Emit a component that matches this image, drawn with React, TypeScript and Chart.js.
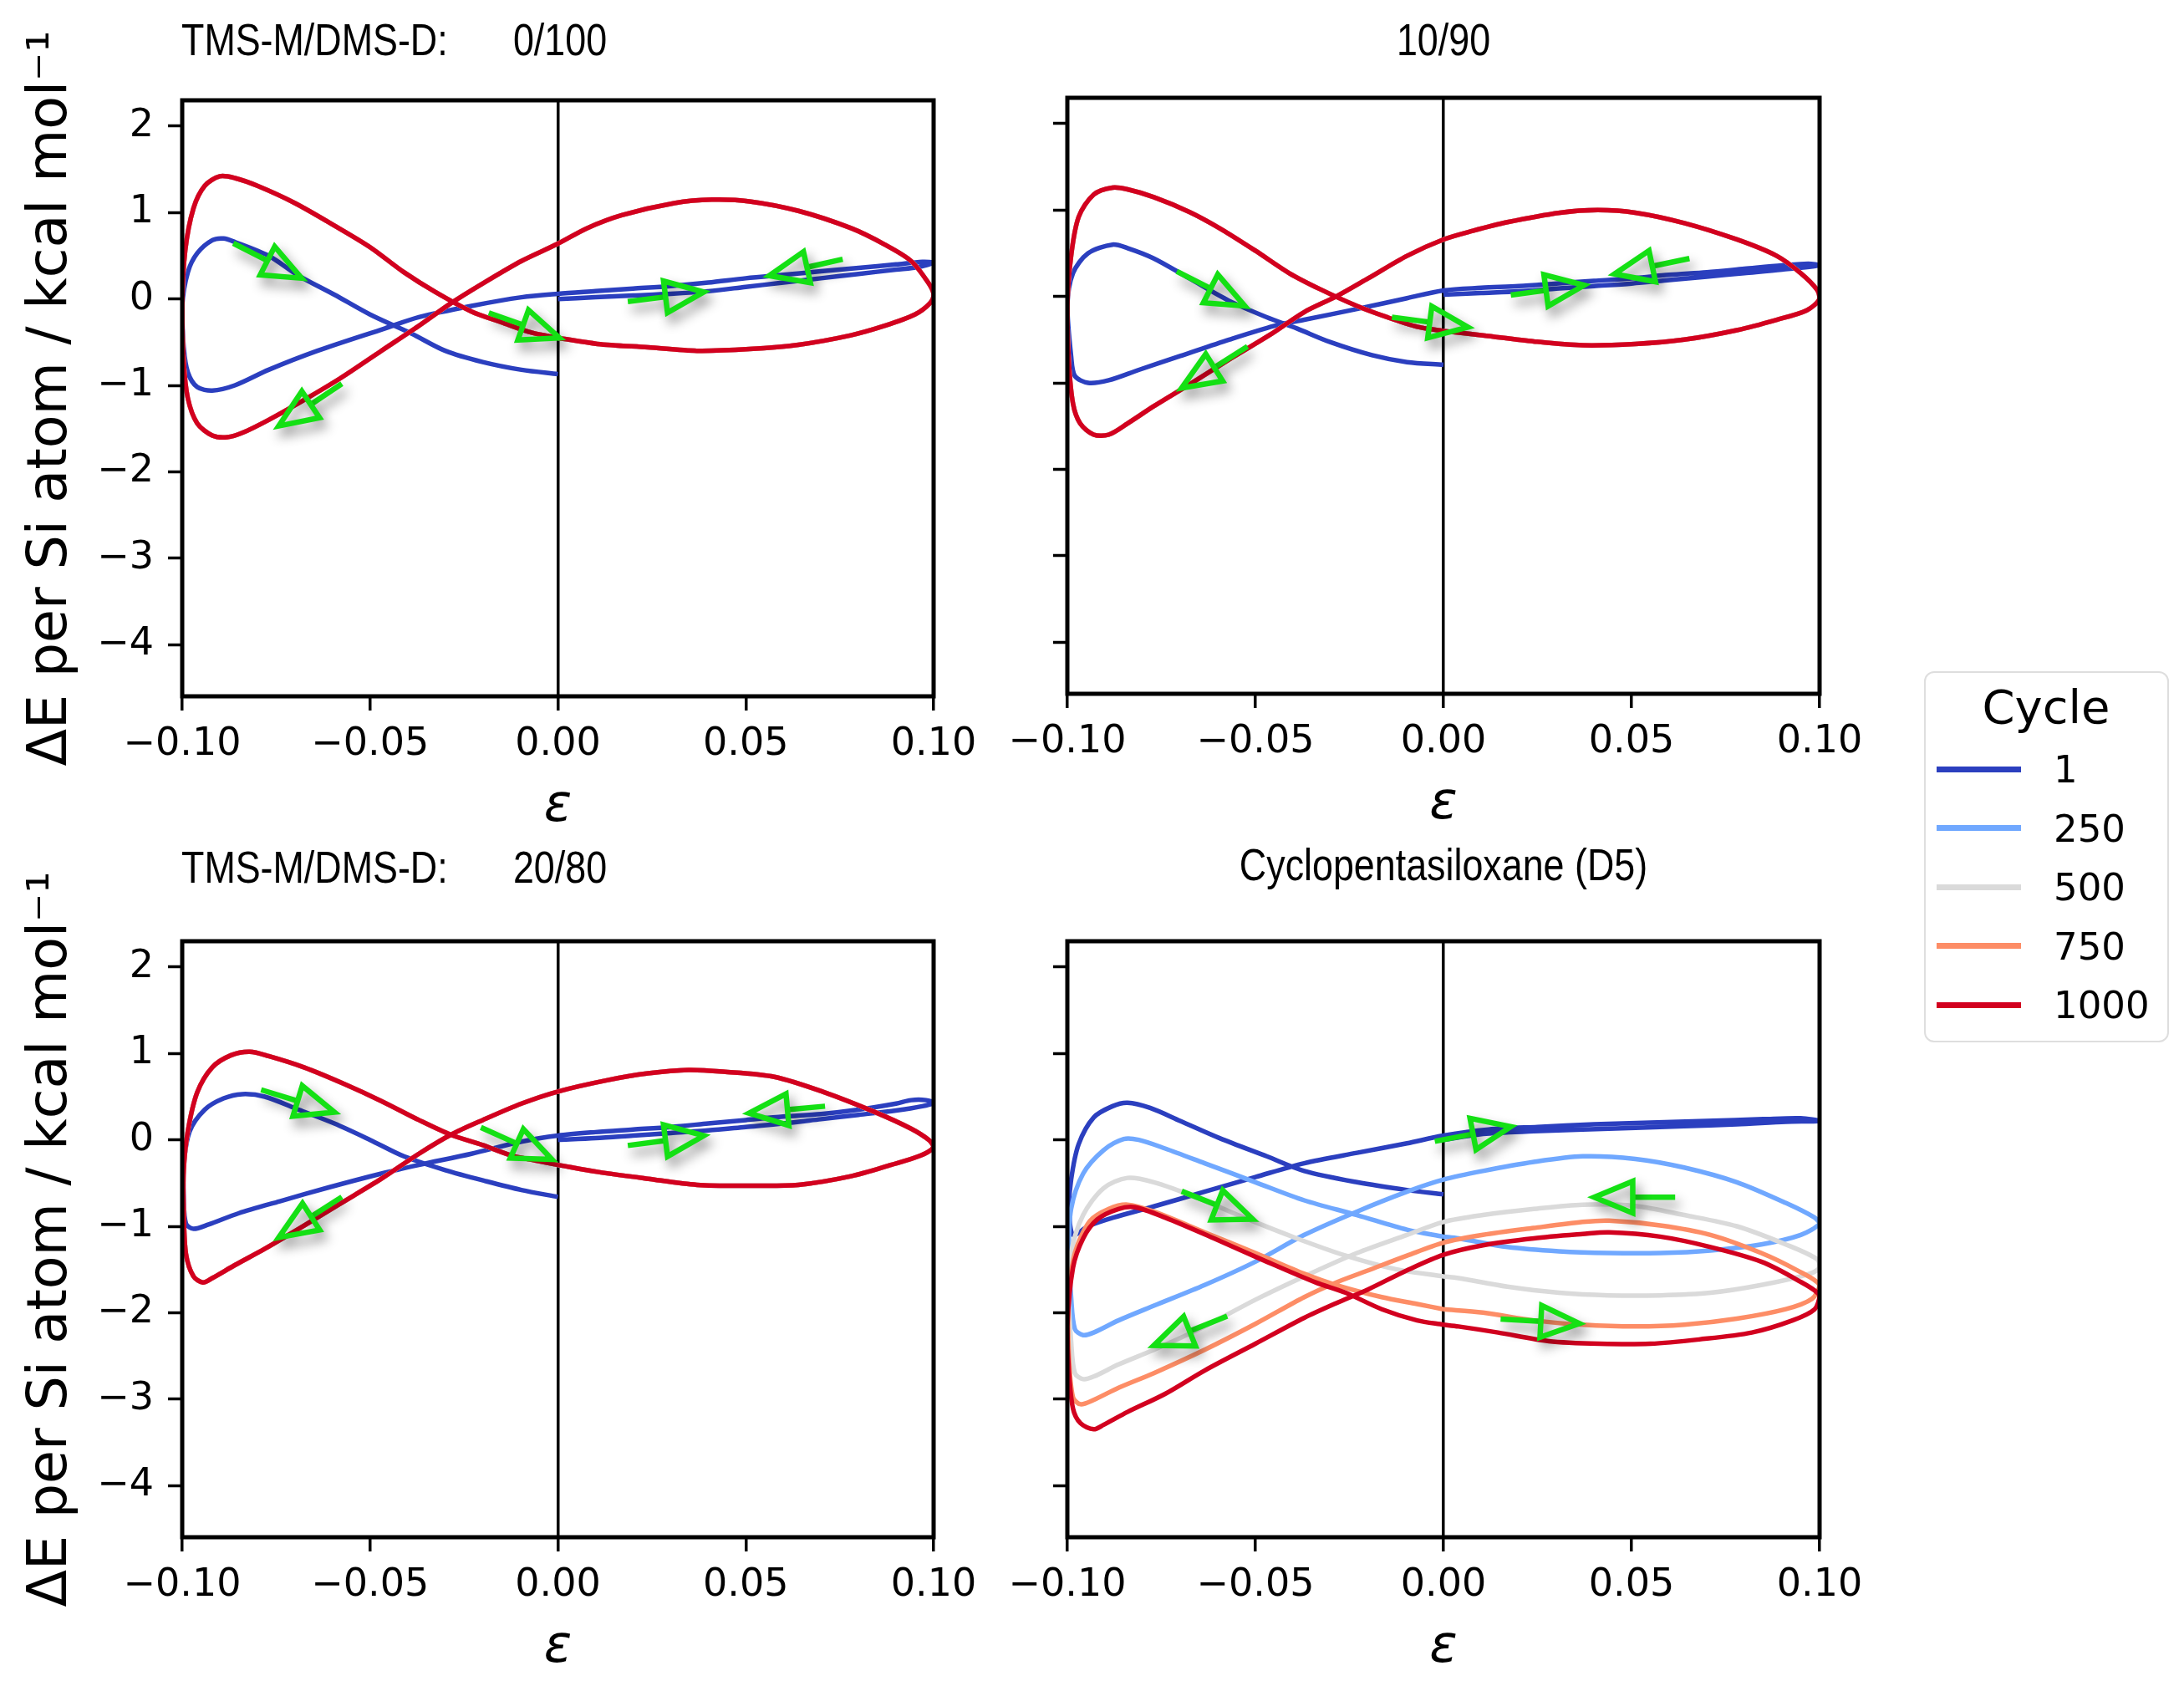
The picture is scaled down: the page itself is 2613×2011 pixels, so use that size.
import React, { useEffect, useRef } from "react";
import { Chart, registerables } from "chart.js";

Chart.register(...registerables);

type Pt = [number, number];
type Arrow = [number, number, number, number]; // tailX, tailY, tipX, tipY (data units)

// ---------- shared categories / ticks ----------
const cycles = ["1", "250", "500", "750", "1000"];
const cycleColors = ["#2b3fbf", "#70a8ff", "#dadada", "#fd8d66", "#d2001f"];
const xTicks = [-0.1, -0.05, 0, 0.05, 0.1];
const yTicks = [-4, -3, -2, -1, 0, 1, 2];
const xMin = -0.1;
const xMax = 0.1;
const yMin = -4.6;
const yMax = 2.3;
const titlePrefix = "TMS-M/DMS-D:";
const panelTitles = ["0/100", "10/90", "20/80", "Cyclopentasiloxane (D5)"];
const yAxisTitle = "ΔE per Si atom / kcal mol⁻¹";
const xAxisTitle = "ε";

// ---------- Panel 1 : 0/100 ----------
const p1_c1: Pt[] = [
  [0, 0.0], [0.01, 0.02], [0.02, 0.04], [0.03, 0.06], [0.04, 0.09], [0.05, 0.14], [0.06, 0.19], [0.07, 0.24],
  [0.08, 0.29], [0.09, 0.34], [0.096, 0.37], [0.1, 0.42], [0.097, 0.43], [0.09, 0.4], [0.08, 0.36], [0.07, 0.32],
  [0.06, 0.28], [0.05, 0.24], [0.04, 0.19], [0.03, 0.15], [0.02, 0.12], [0.01, 0.09], [0, 0.06],
  [-0.0097, 0.02], [-0.023, -0.08], [-0.037, -0.21], [-0.046, -0.34], [-0.064, -0.6], [-0.077, -0.82],
  [-0.086, -1.0], [-0.092, -1.06], [-0.096, -1.02], [-0.0985, -0.85], [-0.0996, -0.56], [-0.1, -0.08],
  [-0.0985, 0.31], [-0.096, 0.53], [-0.092, 0.68], [-0.089, 0.7], [-0.086, 0.66], [-0.077, 0.5], [-0.069, 0.27],
  [-0.0595, 0.05], [-0.05, -0.18], [-0.039, -0.4], [-0.03, -0.6], [-0.02, -0.73], [-0.0097, -0.82], [0, -0.87],
];
const p1_c1000: Pt[] = [
  [0, -0.45], [0.0105, -0.52], [0.024, -0.56], [0.037, -0.6], [0.051, -0.58], [0.064, -0.53], [0.078, -0.42],
  [0.087, -0.31], [0.095, -0.18], [0.099, -0.05], [0.1, 0.05], [0.0987, 0.18], [0.094, 0.44], [0.087, 0.63],
  [0.078, 0.82], [0.064, 1.02], [0.051, 1.13], [0.041, 1.15], [0.031, 1.11], [0.017, 0.97], [0.0078, 0.82],
  [0, 0.64], [-0.0097, 0.44], [-0.02, 0.18], [-0.0285, -0.05], [-0.037, -0.31], [-0.047, -0.6], [-0.058, -0.92],
  [-0.068, -1.18], [-0.077, -1.4], [-0.084, -1.55], [-0.088, -1.6], [-0.092, -1.58], [-0.096, -1.44],
  [-0.0985, -1.15], [-0.0996, -0.73], [-0.1, -0.08], [-0.0992, 0.56], [-0.097, 1.05], [-0.094, 1.31],
  [-0.09, 1.42], [-0.086, 1.4], [-0.08, 1.31], [-0.07, 1.11], [-0.0595, 0.85], [-0.05, 0.6], [-0.041, 0.31],
  [-0.0326, 0.08], [-0.023, -0.145], [-0.015, -0.27], [-0.007, -0.39], [0, -0.45],
];
// cycles 250 / 500 / 750 lie on top of cycle 1000 in this panel
const p1_c250 = p1_c1000;
const p1_c500 = p1_c1000;
const p1_c750 = p1_c1000;
const p1_arrows: Arrow[] = [
  [-0.0864, 0.645, -0.0682, 0.24],
  [-0.0184, -0.16, 0.0004, -0.45],
  [0.0186, -0.03, 0.0388, 0.08],
  [0.0758, 0.46, 0.0563, 0.27],
  [-0.0575, -0.98, -0.0743, -1.47],
];

// ---------- Panel 2 : 10/90 ----------
const p2_c1: Pt[] = [
  [0, 0.02], [0.01, 0.04], [0.02, 0.06], [0.03, 0.09], [0.04, 0.12], [0.05, 0.15], [0.06, 0.19], [0.07, 0.23],
  [0.08, 0.27], [0.09, 0.31], [0.1, 0.36], [0.097, 0.38], [0.09, 0.36], [0.08, 0.32], [0.07, 0.28], [0.06, 0.25],
  [0.05, 0.21], [0.04, 0.18], [0.03, 0.15], [0.02, 0.12], [0.01, 0.1], [0, 0.07],
  [-0.0097, -0.02], [-0.023, -0.145], [-0.037, -0.27], [-0.045, -0.34], [-0.057, -0.5], [-0.07, -0.69],
  [-0.081, -0.85], [-0.089, -0.97], [-0.0945, -1.0], [-0.098, -0.92], [-0.099, -0.69], [-0.1, -0.11],
  [-0.0985, 0.27], [-0.0945, 0.5], [-0.088, 0.6], [-0.084, 0.56], [-0.077, 0.44], [-0.0676, 0.21],
  [-0.057, -0.05], [-0.047, -0.24], [-0.039, -0.37], [-0.03, -0.53], [-0.019, -0.68], [-0.0097, -0.76], [0, -0.79],
];
const p2_c1000: Pt[] = [
  [0, -0.4], [0.0105, -0.45], [0.024, -0.52], [0.037, -0.565], [0.051, -0.55], [0.064, -0.5], [0.078, -0.39],
  [0.0886, -0.27], [0.0966, -0.16], [0.1, -0.03], [0.0993, 0.08], [0.095, 0.27], [0.0886, 0.47], [0.078, 0.66],
  [0.064, 0.85], [0.051, 0.97], [0.041, 1.0], [0.031, 0.97], [0.017, 0.86], [0.0078, 0.76], [0, 0.66],
  [-0.0097, 0.47], [-0.02, 0.21], [-0.0285, 0.0], [-0.037, -0.18], [-0.046, -0.44], [-0.057, -0.73],
  [-0.0676, -1.02], [-0.077, -1.27], [-0.084, -1.47], [-0.089, -1.6], [-0.093, -1.6], [-0.0966, -1.47],
  [-0.0985, -1.24], [-0.0996, -0.76], [-0.1, -0.11], [-0.099, 0.47], [-0.097, 0.92], [-0.093, 1.18],
  [-0.088, 1.26], [-0.084, 1.24], [-0.077, 1.15], [-0.0676, 0.98], [-0.0595, 0.79], [-0.05, 0.53],
  [-0.041, 0.27], [-0.0326, 0.08], [-0.023, -0.11], [-0.015, -0.24], [-0.007, -0.35], [0, -0.4],
];
const p2_c250 = p2_c1000;
const p2_c500 = p2_c1000;
const p2_c750 = p2_c1000;
const p2_arrows: Arrow[] = [
  [-0.0709, 0.29, -0.0528, -0.11],
  [-0.0137, -0.24, 0.0065, -0.355],
  [0.0179, 0.016, 0.0374, 0.13],
  [0.0654, 0.44, 0.0455, 0.26],
  [-0.0521, -0.58, -0.0696, -1.06],
];

// ---------- Panel 3 : 20/80 ----------
const p3_c1: Pt[] = [
  [0, 0.0], [0.01, 0.02], [0.02, 0.05], [0.03, 0.08], [0.04, 0.11], [0.05, 0.15], [0.06, 0.19], [0.07, 0.24],
  [0.08, 0.29], [0.09, 0.34], [0.097, 0.39], [0.1, 0.43], [0.098, 0.46], [0.094, 0.46], [0.09, 0.42], [0.08, 0.35],
  [0.07, 0.3], [0.06, 0.27], [0.05, 0.23], [0.04, 0.19], [0.03, 0.15], [0.02, 0.12], [0.01, 0.09], [0, 0.05],
  [-0.0097, -0.02], [-0.023, -0.16], [-0.037, -0.29], [-0.047, -0.39], [-0.061, -0.55], [-0.074, -0.71],
  [-0.085, -0.85], [-0.093, -0.98], [-0.097, -1.03], [-0.099, -0.97], [-0.0996, -0.68], [-0.0996, -0.29],
  [-0.098, 0.1], [-0.094, 0.35], [-0.089, 0.48], [-0.084, 0.53], [-0.078, 0.5], [-0.069, 0.35], [-0.0595, 0.19],
  [-0.05, 0.0], [-0.041, -0.19], [-0.03, -0.35], [-0.019, -0.48], [-0.0097, -0.58], [0, -0.66],
];
const p3_c1000: Pt[] = [
  [0, -0.29], [0.0105, -0.37], [0.024, -0.45], [0.037, -0.52], [0.051, -0.53], [0.064, -0.52], [0.078, -0.42],
  [0.0886, -0.29], [0.0966, -0.18], [0.1, -0.08], [0.0987, 0.0], [0.094, 0.13], [0.0845, 0.32], [0.071, 0.55],
  [0.0576, 0.73], [0.044, 0.79], [0.0347, 0.81], [0.024, 0.77], [0.013, 0.69], [0, 0.56], [-0.0097, 0.42],
  [-0.02, 0.23], [-0.0285, 0.06], [-0.037, -0.16], [-0.047, -0.45], [-0.058, -0.74], [-0.069, -1.03],
  [-0.078, -1.26], [-0.086, -1.45], [-0.092, -1.6], [-0.0945, -1.65], [-0.097, -1.58], [-0.099, -1.32],
  [-0.0996, -0.84], [-0.0996, -0.35], [-0.0985, 0.1], [-0.096, 0.55], [-0.092, 0.84], [-0.087, 0.98],
  [-0.082, 1.02], [-0.077, 0.97], [-0.0676, 0.84], [-0.057, 0.65], [-0.047, 0.45], [-0.037, 0.23],
  [-0.0285, 0.06], [-0.02, -0.06], [-0.0124, -0.18], [-0.0057, -0.24], [0, -0.29],
];
const p3_c250 = p3_c1000;
const p3_c500 = p3_c1000;
const p3_c750 = p3_c1000;
const p3_arrows: Arrow[] = [
  [-0.079, 0.58, -0.0595, 0.32],
  [-0.0205, 0.145, -0.0016, -0.226],
  [0.0186, -0.065, 0.0388, 0.048],
  [0.0711, 0.39, 0.0509, 0.31],
  [-0.0575, -0.66, -0.0743, -1.13],
];

// ---------- Panel 4 : Cyclopentasiloxane (D5) ----------
const p4_c1: Pt[] = [
  [0, 0.0], [0.0105, 0.07], [0.024, 0.1], [0.037, 0.12], [0.051, 0.14], [0.064, 0.16], [0.078, 0.18],
  [0.091, 0.21], [0.1, 0.22], [0.095, 0.25], [0.085, 0.24], [0.07, 0.22], [0.055, 0.2], [0.04, 0.18],
  [0.025, 0.15], [0.012, 0.12], [0, 0.05], [-0.0097, -0.04], [-0.023, -0.15], [-0.037, -0.27], [-0.05, -0.43],
  [-0.0635, -0.6], [-0.077, -0.77], [-0.0878, -0.9], [-0.0945, -1.0], [-0.0985, -1.1], [-0.0995, -0.8],
  [-0.099, -0.46], [-0.097, -0.05], [-0.093, 0.26], [-0.088, 0.39], [-0.084, 0.43], [-0.078, 0.37],
  [-0.07, 0.22], [-0.0595, 0.02], [-0.047, -0.19], [-0.037, -0.36], [-0.023, -0.49], [-0.0097, -0.58], [0, -0.63],
];
const p4_c250: Pt[] = [
  [0, -1.12], [0.004, -1.14], [0.017, -1.24], [0.0307, -1.29], [0.044, -1.31], [0.0576, -1.31], [0.071, -1.28],
  [0.0845, -1.21], [0.095, -1.1], [0.1, -0.97], [0.0987, -0.9], [0.091, -0.73], [0.078, -0.49], [0.064, -0.32],
  [0.051, -0.22], [0.037, -0.19], [0.024, -0.255], [0.0105, -0.36], [0, -0.46], [-0.0097, -0.6], [-0.023, -0.83],
  [-0.037, -1.1], [-0.05, -1.41], [-0.0635, -1.68], [-0.077, -1.92], [-0.0864, -2.09], [-0.093, -2.23],
  [-0.0958, -2.26], [-0.098, -2.19], [-0.099, -1.82], [-0.0996, -1.31], [-0.099, -0.8], [-0.0958, -0.39],
  [-0.0904, -0.12], [-0.085, 0.01], [-0.081, 0.0], [-0.074, -0.1], [-0.0635, -0.27], [-0.05, -0.49],
  [-0.037, -0.7], [-0.023, -0.87], [-0.0097, -1.04], [0, -1.12],
];
const p4_c500: Pt[] = [
  [0, -1.58], [0.004, -1.6], [0.017, -1.7], [0.0307, -1.77], [0.044, -1.8], [0.0576, -1.8], [0.071, -1.77],
  [0.0845, -1.68], [0.0966, -1.56], [0.1, -1.48], [0.0993, -1.38], [0.091, -1.21], [0.078, -1.0], [0.064, -0.87],
  [0.051, -0.765], [0.037, -0.75], [0.024, -0.8], [0.0105, -0.87], [0, -0.95], [-0.0097, -1.1], [-0.023, -1.31],
  [-0.037, -1.58], [-0.05, -1.85], [-0.0635, -2.16], [-0.077, -2.43], [-0.0864, -2.6], [-0.093, -2.74],
  [-0.0958, -2.77], [-0.098, -2.7], [-0.099, -2.33], [-0.0996, -1.82], [-0.099, -1.31], [-0.0958, -0.87],
  [-0.0904, -0.56], [-0.084, -0.44], [-0.077, -0.49], [-0.066, -0.66], [-0.053, -0.9], [-0.039, -1.14],
  [-0.026, -1.34], [-0.0124, -1.5], [0, -1.58],
];
const p4_c750: Pt[] = [
  [0, -1.96], [0.0105, -2.0], [0.024, -2.09], [0.037, -2.14], [0.051, -2.16], [0.064, -2.14], [0.078, -2.07],
  [0.091, -1.96], [0.098, -1.84], [0.1, -1.68], [0.094, -1.51], [0.0845, -1.31], [0.071, -1.1], [0.0576, -0.99],
  [0.044, -0.935], [0.037, -0.95], [0.024, -1.02], [0.0105, -1.1], [0, -1.19], [-0.0097, -1.34], [-0.02, -1.51],
  [-0.0285, -1.65], [-0.037, -1.82], [-0.05, -2.13], [-0.0635, -2.43], [-0.077, -2.7], [-0.0864, -2.87],
  [-0.093, -3.01], [-0.0965, -3.06], [-0.0985, -2.98], [-0.0996, -2.5], [-0.0996, -1.82], [-0.098, -1.31],
  [-0.094, -0.94], [-0.089, -0.8], [-0.084, -0.75], [-0.077, -0.83], [-0.0635, -1.07], [-0.05, -1.31],
  [-0.037, -1.55], [-0.0285, -1.68], [-0.0164, -1.82], [-0.007, -1.9], [0, -1.96],
];
const p4_c1000: Pt[] = [
  [0, -2.14], [0.004, -2.16], [0.0145, -2.23], [0.028, -2.33], [0.0415, -2.36], [0.055, -2.36], [0.068, -2.31],
  [0.082, -2.23], [0.0928, -2.09], [0.0987, -1.96], [0.1, -1.8], [0.094, -1.62], [0.0845, -1.41], [0.071, -1.24],
  [0.0576, -1.12], [0.044, -1.07], [0.037, -1.09], [0.024, -1.14], [0.0105, -1.22], [0, -1.33], [-0.0097, -1.51],
  [-0.02, -1.73], [-0.0285, -1.89], [-0.037, -2.06], [-0.05, -2.36], [-0.0635, -2.67], [-0.074, -2.94],
  [-0.084, -3.15], [-0.0904, -3.3], [-0.093, -3.35], [-0.0965, -3.28], [-0.0985, -3.11], [-0.0996, -2.67],
  [-0.1, -2.16], [-0.0985, -1.48], [-0.0958, -1.14], [-0.092, -0.92], [-0.0864, -0.8], [-0.082, -0.78],
  [-0.074, -0.9], [-0.061, -1.14], [-0.047, -1.41], [-0.034, -1.65], [-0.026, -1.77], [-0.0164, -1.96],
  [-0.007, -2.09], [0, -2.14],
];
const p4_arrows: Arrow[] = [
  [-0.0023, -0.017, 0.0179, 0.153],
  [-0.0696, -0.595, -0.0507, -0.918],
  [0.0616, -0.663, 0.0401, -0.663],
  [-0.0575, -2.04, -0.077, -2.38],
  [0.0152, -2.075, 0.0361, -2.126],
];

// ---------- layout (pixel styles only) ----------
const PAD_TOP = 100;
const PAD_RIGHT = 100;
const X_AXIS_H = 170;
const panelLayout = [
  { left: 0, top: 20, padLeft: 0, yW: 218, chartW: 899, chartH: 713, yLabels: true },
  { left: 1157, top: 17, padLeft: 80, yW: 40, chartW: 900, chartH: 713, yLabels: false },
  { left: 0, top: 1026, padLeft: 0, yW: 218, chartW: 899, chartH: 713, yLabels: true },
  { left: 1157, top: 1026, padLeft: 80, yW: 40, chartW: 900, chartH: 713, yLabels: false },
];
const panelSeries: Pt[][][] = [
  [p1_c1, p1_c250, p1_c500, p1_c750, p1_c1000],
  [p2_c1, p2_c250, p2_c500, p2_c750, p2_c1000],
  [p3_c1, p3_c250, p3_c500, p3_c750, p3_c1000],
  [p4_c1, p4_c250, p4_c500, p4_c750, p4_c1000],
];
const panelArrows: Arrow[][] = [p1_arrows, p2_arrows, p3_arrows, p4_arrows];

const fmtSigned = (v: number, digits: number) =>
  (v < -1e-12 ? "\u2212" : "") + Math.abs(v).toFixed(digits);

const framePlugin = {
  id: "frame",
  afterDatasetsDraw(chart: any) {
    const { ctx, chartArea: a } = chart;
    ctx.save();
    ctx.strokeStyle = "#000";
    ctx.lineWidth = 5;
    ctx.strokeRect(a.left, a.top, a.right - a.left, a.bottom - a.top);
    ctx.restore();
  },
};

function makeArrowPlugin(arrows: Arrow[]) {
  return {
    id: "arrows",
    afterDatasetsDraw(chart: any) {
      const { ctx } = chart;
      const xs = chart.scales.x;
      const ys = chart.scales.y;
      const L = 46;
      const H = 19;
      ctx.save();
      for (const [tx, ty, hx, hy] of arrows) {
        const x0 = xs.getPixelForValue(tx);
        const y0 = ys.getPixelForValue(ty);
        const x1 = xs.getPixelForValue(hx);
        const y1 = ys.getPixelForValue(hy);
        const ang = Math.atan2(y1 - y0, x1 - x0);
        const bx = x1 - L * Math.cos(ang);
        const by = y1 - L * Math.sin(ang);
        const px = -Math.sin(ang);
        const py = Math.cos(ang);
        ctx.shadowColor = "rgba(0,0,0,0.45)";
        ctx.shadowBlur = 14;
        ctx.shadowOffsetX = 5;
        ctx.shadowOffsetY = 9;
        ctx.strokeStyle = "#14e014";
        ctx.lineWidth = 6.5;
        ctx.lineJoin = "miter";
        ctx.lineCap = "butt";
        ctx.beginPath();
        ctx.moveTo(x0, y0);
        ctx.lineTo(bx, by);
        ctx.stroke();
        ctx.beginPath();
        ctx.moveTo(x1, y1);
        ctx.lineTo(bx + px * H, by + py * H);
        ctx.lineTo(bx - px * H, by - py * H);
        ctx.closePath();
        ctx.stroke();
      }
      ctx.restore();
    },
  };
}

function Panel({ index }: { index: number }) {
  const ref = useRef<HTMLCanvasElement>(null);
  const lay = panelLayout[index];
  const width = lay.padLeft + lay.yW + lay.chartW + PAD_RIGHT;
  const height = PAD_TOP + lay.chartH + X_AXIS_H;

  useEffect(() => {
    if (!ref.current) return;
    const series = panelSeries[index];
    const chart = new Chart(ref.current, {
      type: "scatter",
      data: {
        datasets: series.map((pts, i) => ({
          label: cycles[i],
          data: pts.map(([x, y]) => ({ x, y })),
          showLine: true,
          borderColor: cycleColors[i],
          backgroundColor: cycleColors[i],
          borderWidth: 5.5,
          pointRadius: 0,
          pointHoverRadius: 0,
          tension: 0.3,
          fill: false,
          order: series.length - i,
        })),
      },
      options: {
        animation: false,
        responsive: false,
        devicePixelRatio: 1,
        events: [],
        layout: {
          autoPadding: false,
          padding: { left: lay.padLeft, right: PAD_RIGHT, top: PAD_TOP, bottom: 0 },
        },
        plugins: {
          legend: { display: false },
          tooltip: { enabled: false },
          title: { display: false },
        },
        scales: {
          x: {
            type: "linear",
            min: xMin,
            max: xMax,
            afterBuildTicks: (s: any) => {
              s.ticks = xTicks.map((v) => ({ value: v }));
            },
            afterFit: (s: any) => {
              s.height = X_AXIS_H;
            },
            ticks: {
              color: "#000",
              font: { size: 46, family: "DejaVu Sans" },
              padding: 13,
              maxRotation: 0,
              autoSkip: false,
              callback: (v: any) => fmtSigned(Number(v), 2),
            },
            grid: {
              drawOnChartArea: true,
              color: (c: any) =>
                c.tick && Math.abs(c.tick.value) < 1e-9 ? "#000" : "rgba(0,0,0,0)",
              lineWidth: 3.5,
              drawTicks: true,
              tickLength: 17,
              tickWidth: 3.5,
              tickColor: "#000",
            },
            border: { display: false },
            title: {
              display: true,
              text: xAxisTitle,
              color: "#000",
              font: { size: 62, family: "DejaVu Sans", style: "italic" },
              padding: { top: 0, bottom: 0 },
            },
          },
          y: {
            type: "linear",
            min: yMin,
            max: yMax,
            afterBuildTicks: (s: any) => {
              s.ticks = yTicks.map((v) => ({ value: v }));
            },
            afterFit: (s: any) => {
              s.width = lay.yW;
            },
            ticks: {
              display: lay.yLabels,
              color: "#000",
              font: { size: 46, family: "DejaVu Sans" },
              padding: 17,
              autoSkip: false,
              callback: (v: any) => fmtSigned(Number(v), 0),
            },
            grid: {
              drawOnChartArea: false,
              drawTicks: true,
              tickLength: 17,
              tickWidth: 3.5,
              tickColor: "#000",
            },
            border: { display: false },
            title: {
              display: lay.yLabels,
              text: yAxisTitle,
              color: "#000",
              font: { size: 65, family: "DejaVu Sans" },
              padding: { top: 23, bottom: 0 },
            },
          },
        },
      } as any,
      plugins: [framePlugin, makeArrowPlugin(panelArrows[index])],
    });
    return () => chart.destroy();
  }, [index]);

  return (
    <canvas
      ref={ref}
      width={width}
      height={height}
      style={{ position: "absolute", left: lay.left, top: lay.top, width, height }}
    />
  );
}

const TITLE_FS = 54;
const titleStyle: React.CSSProperties = {
  position: "absolute",
  whiteSpace: "nowrap",
  color: "#000",
  fontFamily: "'Liberation Sans', Arial, sans-serif",
  fontSize: TITLE_FS,
  lineHeight: `${TITLE_FS}px`,
  margin: 0,
};

function TitleLeft({ text, x, baseline }: { text: string; x: number; baseline: number }) {
  return (
    <div
      style={{
        ...titleStyle,
        left: x,
        top: baseline - 45.7,
        transform: "scaleX(0.83)",
        transformOrigin: "left center",
      }}
    >
      {text}
    </div>
  );
}

function TitleCenter({ text, cx, baseline }: { text: string; cx: number; baseline: number }) {
  return (
    <div
      style={{
        ...titleStyle,
        left: cx - 1000,
        width: 2000,
        textAlign: "center",
        top: baseline - 45.7,
        transform: "scaleX(0.83)",
        transformOrigin: "center center",
      }}
    >
      {text}
    </div>
  );
}

function Legend() {
  const rowY = cycles.map((_, i) => 920 + i * 70.5);
  return (
    <>
      <div
        style={{
          position: "absolute",
          left: 2302,
          top: 803,
          width: 293,
          height: 444,
          boxSizing: "border-box",
          border: "2px solid #dedede",
          borderRadius: 12,
          background: "#fff",
        }}
      />
      <div
        style={{
          position: "absolute",
          left: 2448 - 200,
          width: 400,
          textAlign: "center",
          top: 817.6,
          fontFamily: "'DejaVu Sans', sans-serif",
          fontSize: 56,
          lineHeight: "56px",
          color: "#000",
          whiteSpace: "nowrap",
        }}
      >
        Cycle
      </div>
      {cycles.map((c, i) => (
        <React.Fragment key={c}>
          <div
            style={{
              position: "absolute",
              left: 2317,
              top: rowY[i] - 3.5,
              width: 101,
              height: 7,
              background: cycleColors[i],
            }}
          />
          <div
            style={{
              position: "absolute",
              left: 2457,
              top: rowY[i] - 21.7,
              fontFamily: "'DejaVu Sans', sans-serif",
              fontSize: 45,
              lineHeight: "45px",
              color: "#000",
              whiteSpace: "nowrap",
            }}
          >
            {c}
          </div>
        </React.Fragment>
      ))}
    </>
  );
}

export default function App() {
  return (
    <div
      style={{
        position: "absolute",
        left: 0,
        top: 0,
        width: 2613,
        height: 2011,
        background: "#fff",
        overflow: "hidden",
      }}
    >
      {panelLayout.map((_, i) => (
        <Panel key={i} index={i} />
      ))}
      <TitleLeft text={titlePrefix} x={217} baseline={66} />
      <TitleCenter text={panelTitles[0]} cx={670} baseline={66} />
      <TitleCenter text={panelTitles[1]} cx={1727} baseline={66} />
      <TitleLeft text={titlePrefix} x={217} baseline={1056} />
      <TitleCenter text={panelTitles[2]} cx={670} baseline={1056} />
      <TitleCenter text={panelTitles[3]} cx={1727} baseline={1053} />
      <Legend />
    </div>
  );
}
